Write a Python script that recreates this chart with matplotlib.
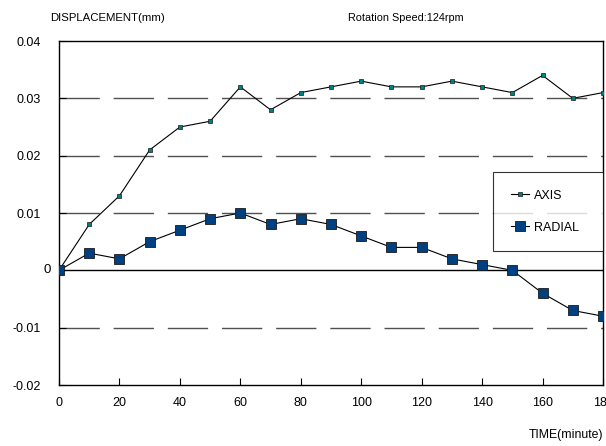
import matplotlib
matplotlib.use("Agg")
import matplotlib.pyplot as plt
import matplotlib.transforms as mtransforms

plt.rcParams['font.family'] = ['Liberation Sans', 'DejaVu Sans']

time = [0, 10, 20, 30, 40, 50, 60, 70, 80, 90, 100, 110, 120, 130, 140, 150, 160, 170, 180]
axis_vals = [0, 0.008, 0.013, 0.021, 0.025, 0.026, 0.032, 0.028, 0.031, 0.032, 0.033,
             0.032, 0.032, 0.033, 0.032, 0.031, 0.034, 0.030, 0.031]
radial_vals = [0, 0.003, 0.002, 0.005, 0.007, 0.009, 0.010, 0.008, 0.009, 0.008, 0.006,
               0.004, 0.004, 0.002, 0.001, 0.0, -0.004, -0.007, -0.008]
xticks = [0, 20, 40, 60, 80, 100, 120, 140, 160, 180]
yticks = [-0.02, -0.01, 0, 0.01, 0.02, 0.03, 0.04]
ylabels = ['-0.02', '-0.01', '', '0.01', '0.02', '0.03', '0.04']

fig = plt.figure(figsize=(6.06, 4.46), dpi=100)
ax = fig.add_axes([59/606, 1 - 385/446, (603-59)/606, (385-41)/446])

ax.set_xlim(0, 180)
ax.set_ylim(-0.02, 0.04)

for y in [-0.01, 0.01, 0.02, 0.03]:
    ax.axhline(y, color='#505050', lw=1.0, dashes=(29, 10), zorder=1)
ax.axhline(0, color='black', lw=1.0, zorder=1)

ax.plot(time, axis_vals, color='black', lw=0.8, marker='s', markersize=3.5,
        markerfacecolor='#008080', markeredgecolor='#1a1a1a', markeredgewidth=0.5,
        label='AXIS', zorder=3)
ax.plot(time, radial_vals, color='black', lw=0.8, marker='s', markersize=6.5,
        markerfacecolor='#003f80', markeredgecolor='#1a1a1a', markeredgewidth=0.6,
        label='RADIAL', zorder=3)

ax.set_xticks(xticks)
ax.set_yticks(yticks)
ax.set_yticklabels(ylabels)
ax.tick_params(axis='both', direction='in', length=5, labelsize=9, colors='black')
ax.tick_params(axis='x', pad=9)
ax.tick_params(axis='y', pad=13)
for sp in ax.spines.values():
    sp.set_linewidth(1.0)

# zero label sits closer to the axis in the reference
off = mtransforms.offset_copy(ax.get_yaxis_transform(), fig=fig, x=-6, y=0, units='points')
ax.text(0, 0, '0', transform=off, ha='right', va='center', fontsize=9.5)

h = 0.24
leg = ax.legend(loc='upper left', bbox_to_anchor=(0.798, 0.619 - h, 0.202, h),
                mode='expand', borderaxespad=0,
                frameon=True, fancybox=False, edgecolor='black', fontsize=9,
                borderpad=1.4, labelspacing=1.6, handlelength=1.5, handletextpad=0.4)
leg.get_frame().set_linewidth(0.8)

fig.text(50/606, 1 - 18/446, 'DISPLACEMENT(mm)', fontsize=8.2, va='center', ha='left')
fig.text(348/606, 1 - 18/446, 'Rotation Speed:124rpm', fontsize=7.8, va='center', ha='left')
fig.text(603/606, 1 - 435/446, 'TIME(minute)', fontsize=8.8, va='center', ha='right')

fig.savefig('out.png', dpi=100)
